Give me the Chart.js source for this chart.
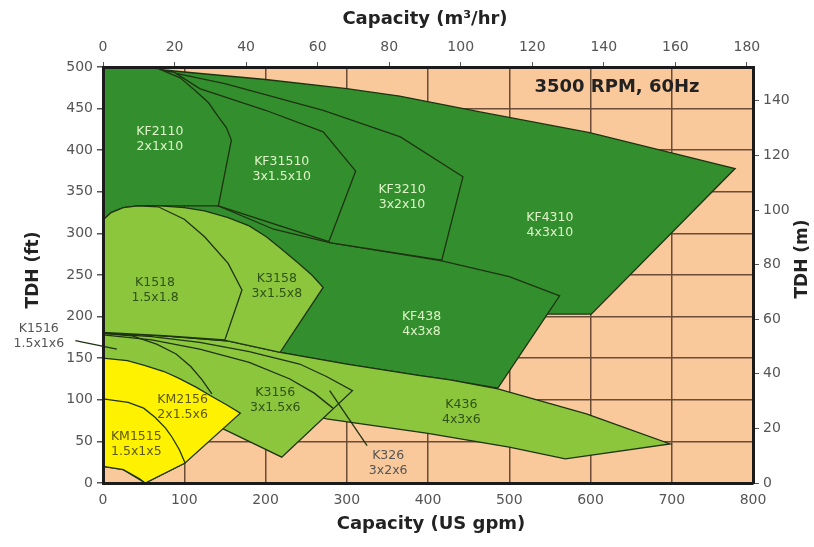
<!DOCTYPE html>
<html lang="en">
<head>
<meta charset="utf-8">
<title>Pump coverage 3500 RPM, 60Hz</title>
<script src="https://cdn.jsdelivr.net/npm/chart.js@4.4.1/dist/chart.umd.min.js"></script>
<style>
    html, body { margin: 0; padding: 0; background: #ffffff; }
    canvas { display: block; }
</style>
</head>
<body>
<canvas id="canvasWykresu" width="814" height="547"></canvas>
<script>
// tick labels of the four axes
const ticksGpm = [0, 100, 200, 300, 400, 500, 600, 700, 800];
const ticksM3h = [0, 20, 40, 60, 80, 100, 120, 140, 160, 180];
const ticksFt = [0, 50, 100, 150, 200, 250, 300, 350, 400, 450, 500];
const ticksM = [0, 20, 40, 60, 80, 100, 120, 140];

// pump regions, points as [gpm, ft]
const obszarKF4310 = [[0, 500], [40, 500], [100, 494], [200, 485], [300, 474], [365, 465], [464, 446], [599, 421], [778, 378], [601, 203], [546, 203], [500, 215], [300, 262], [150, 300], [0, 330], [0, 500]];
const obszarKF438 = [[100, 342], [142, 333], [210, 305], [279, 289], [417, 267], [500, 248], [562, 225], [486, 114], [427, 124], [390, 129], [300, 143], [218, 157], [150, 171], [100, 200], [100, 342]];
const obszarKF3210 = [[37, 499], [62, 498], [150, 480], [271, 448], [366, 416], [443, 368], [417, 268], [279, 289], [220, 320], [150, 400], [37, 499]];
const obszarKF31510 = [[37, 499], [87, 494], [119, 474], [200, 448], [271, 422], [311, 375], [278, 290], [142, 333], [100, 400], [37, 499]];
const obszarKF2110 = [[0, 500], [40, 500], [68, 498], [95, 487], [113, 472], [130, 457], [142, 440], [152, 427], [158, 412], [142, 333], [100, 333], [43, 333], [0, 318], [0, 500]];
const obszarK436 = [[0, 181], [75, 177], [152, 171], [218, 157], [300, 143], [390, 129], [427, 124], [486, 113], [595, 83], [698, 47], [569, 29], [500, 43], [398, 60], [275, 77], [200, 100], [100, 140], [0, 160], [0, 181]];
const obszarK3158 = [[0, 316], [10, 325], [25, 331], [43, 333], [70, 333], [100, 331], [125, 327], [154, 319], [180, 309], [201, 296], [220, 281], [242, 263], [258, 249], [271, 235], [218, 157], [152, 171], [75, 177], [0, 181], [0, 316]];
const obszarK1518 = [[0, 316], [10, 325], [25, 331], [43, 333], [68, 332], [100, 317], [125, 296], [154, 264], [171, 232], [150, 172], [75, 177], [0, 181], [0, 316]];
const obszarK3156 = [[0, 180], [60, 176], [119, 169], [180, 158], [242, 143], [275, 128], [307, 111], [220, 31], [146, 66], [110, 80], [50, 110], [0, 125], [0, 180]];
const obszarKM2156 = [[0, 150], [30, 147], [52, 141], [75, 134], [93, 126], [115, 115], [134, 104], [152, 94], [169, 84], [101, 24], [52, 0], [25, 16], [0, 20], [0, 150]];
const obszarKM1515 = [[0, 101], [31, 97], [50, 90], [64, 79], [77, 66], [85, 55], [94, 40], [101, 24], [52, 0], [45, 5], [25, 16], [0, 20], [0, 101]];

// loose boundary lines and label pointers
const liniaK326 = [[0, 178], [60, 172], [119, 161], [180, 145], [230, 125], [260, 108], [283, 90]];
const liniaK1516 = [[0, 180], [35, 177], [66, 167], [90, 155], [108, 140], [122, 124], [134, 107]];
const wskaznikK1516 = [[-34, 171], [17, 161]];
const wskaznikK326 = [[279, 111], [325, 45]];

// region names, centred at [gpm, ft]
const etykiety = [
    { linie: ['KF2110', '2x1x10'], gpm: 70, ft: 413, typ: 'ciemny' },
    { linie: ['KF31510', '3x1.5x10'], gpm: 220, ft: 377, typ: 'ciemny' },
    { linie: ['KF3210', '3x2x10'], gpm: 368, ft: 344, typ: 'ciemny' },
    { linie: ['KF4310', '4x3x10'], gpm: 550, ft: 310, typ: 'ciemny' },
    { linie: ['KF438', '4x3x8'], gpm: 392, ft: 191, typ: 'ciemny' },
    { linie: ['K1518', '1.5x1.8'], gpm: 64, ft: 232, typ: 'jasny' },
    { linie: ['K3158', '3x1.5x8'], gpm: 214, ft: 236, typ: 'jasny' },
    { linie: ['K3156', '3x1.5x6'], gpm: 212, ft: 100, typ: 'jasny' },
    { linie: ['K436', '4x3x6'], gpm: 441, ft: 85, typ: 'jasny' },
    { linie: ['KM2156', '2x1.5x6'], gpm: 98, ft: 91, typ: 'zolty' },
    { linie: ['KM1515', '1.5x1x5'], gpm: 41, ft: 47, typ: 'zolty' },
    { linie: ['K326', '3x2x6'], gpm: 351, ft: 24, typ: 'tlo' },
    { linie: ['K1516', '1.5x1x6'], gpm: -79, ft: 176, typ: 'tlo' }
];

const GPM_NA_M3H = 4.402868;
const FT_NA_M = 3.28084;

const kolory = {
    ciemny: '#338f2e',
    jasny: '#8cc63c',
    zolty: '#fff200',
    obrys: '#1e3312',
    tlo: '#f9c99c',
    siatka: '#6b4c36'
};
const koloryTekstu = { ciemny: '#dff3c8', jasny: '#2f5218', zolty: '#5d5a10', tlo: '#555555' };

const FONT = "'DejaVu Sans', Verdana, sans-serif";

function zrobObszar(punkty, kolor) {
    return {
        data: punkty.map(([x, y]) => ({ x, y })),
        backgroundColor: kolor,
        borderColor: kolory.obrys,
        borderWidth: 1.3,
        fill: 'shape',
        pointRadius: 0,
        tension: 0
    };
}

function zrobLinie(punkty, bezClipa) {
    return {
        data: punkty.map(([x, y]) => ({ x, y })),
        borderColor: kolory.obrys,
        borderWidth: 1.3,
        fill: false,
        pointRadius: 0,
        tension: 0,
        clip: bezClipa ? false : undefined
    };
}

// back to front
const zestawy = [
    zrobObszar(obszarKF4310, kolory.ciemny),
    zrobObszar(obszarKF438, kolory.ciemny),
    zrobObszar(obszarKF3210, kolory.ciemny),
    zrobObszar(obszarKF31510, kolory.ciemny),
    zrobObszar(obszarKF2110, kolory.ciemny),
    zrobObszar(obszarK436, kolory.jasny),
    zrobObszar(obszarK3158, kolory.jasny),
    zrobObszar(obszarK1518, kolory.jasny),
    zrobObszar(obszarK3156, kolory.jasny),
    zrobLinie(liniaK326),
    zrobLinie(liniaK1516),
    zrobObszar(obszarKM2156, kolory.zolty),
    zrobObszar(obszarKM1515, kolory.zolty),
    zrobLinie(wskaznikK326),
    zrobLinie(wskaznikK1516, true)
];
zestawy.forEach((z, i) => { z.order = zestawy.length - i; });

const tloIEtykiety = {
    id: 'tloIEtykiety',
    beforeDraw(chart) {
        const { ctx, chartArea } = chart;
        ctx.save();
        ctx.fillStyle = kolory.tlo;
        ctx.fillRect(chartArea.left, chartArea.top, chartArea.right - chartArea.left, chartArea.bottom - chartArea.top);
        ctx.restore();
    },
    afterDatasetsDraw(chart) {
        const { ctx, scales } = chart;
        ctx.save();
        ctx.textAlign = 'center';
        ctx.textBaseline = 'middle';
        ctx.font = `12.5px ${FONT}`;
        etykiety.forEach(e => {
            const px = scales.x.getPixelForValue(e.gpm);
            const py = scales.y.getPixelForValue(e.ft);
            ctx.fillStyle = koloryTekstu[e.typ];
            ctx.fillText(e.linie[0], px, py - 7.5);
            ctx.fillText(e.linie[1], px, py + 7.5);
        });
        ctx.restore();
    },
    afterDraw(chart) {
        const { ctx, chartArea } = chart;
        const srodekX = (chartArea.left + chartArea.right) / 2;
        const srodekY = (chartArea.top + chartArea.bottom) / 2;
        ctx.save();
        ctx.fillStyle = '#222222';
        ctx.textAlign = 'center';
        ctx.textBaseline = 'middle';
        ctx.font = `bold 18px ${FONT}`;
        ctx.fillText('Capacity (m³/hr)', srodekX - 3, 19);
        ctx.fillText('Capacity (US gpm)', srodekX + 3, 524);
        ctx.fillText('3500 RPM, 60Hz', 617, 87);
        ctx.font = `bold 17px ${FONT}`;
        ctx.translate(34, srodekY - 5);
        ctx.rotate(-Math.PI / 2);
        ctx.fillText('TDH (ft)', 0, 0);
        ctx.restore();
        ctx.save();
        ctx.fillStyle = '#222222';
        ctx.textAlign = 'center';
        ctx.textBaseline = 'middle';
        ctx.font = `bold 17px ${FONT}`;
        ctx.translate(803, srodekY - 16);
        ctx.rotate(-Math.PI / 2);
        ctx.fillText('TDH (m)', 0, 0);
        ctx.restore();
    }
};

const ramka = { display: true, width: 3, color: '#1b1b1b', z: 1 };
const czcionkaOsi = { family: FONT, size: 14 };

new Chart(document.getElementById('canvasWykresu').getContext('2d'), {
    type: 'line',
    data: { datasets: zestawy },
    options: {
        responsive: false,
        animation: false,
        devicePixelRatio: 1,
        events: [],
        layout: { padding: 0 },
        plugins: { legend: { display: false }, tooltip: { enabled: false } },
        scales: {
            x: {
                type: 'linear',
                position: 'bottom',
                min: 0,
                max: 800,
                afterBuildTicks: s => { s.ticks = ticksGpm.map(v => ({ value: v })); },
                afterFit: s => { s.height = 64; },
                grid: { color: kolory.siatka, lineWidth: 1.5, drawTicks: false },
                border: ramka,
                ticks: { font: czcionkaOsi, color: '#555555', padding: 9, maxRotation: 0 }
            },
            x2: {
                type: 'linear',
                position: 'top',
                min: 0,
                max: 800 / GPM_NA_M3H,
                afterBuildTicks: s => { s.ticks = ticksM3h.map(v => ({ value: v })); },
                afterFit: s => { s.height = 67; },
                grid: { drawOnChartArea: false, tickLength: 5, tickColor: '#555555' },
                border: ramka,
                ticks: { font: czcionkaOsi, color: '#555555', padding: 6, maxRotation: 0 }
            },
            y: {
                type: 'linear',
                position: 'left',
                min: 0,
                max: 500,
                afterBuildTicks: s => { s.ticks = ticksFt.map(v => ({ value: v })); },
                afterFit: s => { s.width = 103; },
                grid: { color: kolory.siatka, lineWidth: 1.5, tickLength: 6, tickColor: '#555555' },
                border: ramka,
                ticks: { font: czcionkaOsi, color: '#555555', padding: 4 }
            },
            y2: {
                type: 'linear',
                position: 'right',
                min: 0,
                max: 500 / FT_NA_M,
                afterBuildTicks: s => { s.ticks = ticksM.map(v => ({ value: v })); },
                afterFit: s => { s.width = 61; },
                grid: { drawOnChartArea: false, tickLength: 6, tickColor: '#555555' },
                border: ramka,
                ticks: { font: czcionkaOsi, color: '#555555', padding: 4 }
            }
        }
    },
    plugins: [tloIEtykiety]
});
</script>
</body>
</html>
